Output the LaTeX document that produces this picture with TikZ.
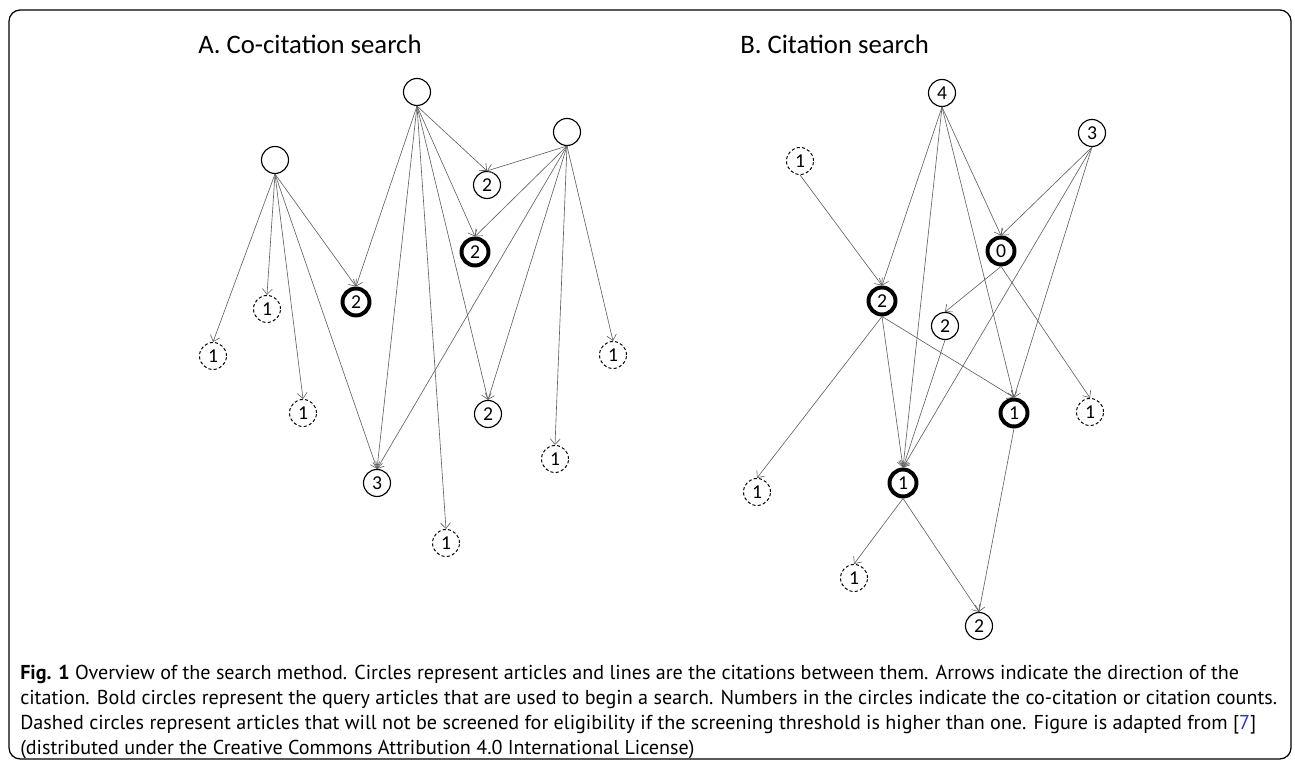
\documentclass[tikz,border=0pt]{standalone}
\usepackage{fontspec}
\setmainfont{Carlito}
\newfontfamily\capfont{PT Sans}
\usepackage[dvipsnames]{xcolor}
\usetikzlibrary{arrows.meta}
\definecolor{refblue}{RGB}{45,45,225}

\begin{document}
\begin{tikzpicture}[
  >={Straight Barb[length=4pt,width=7pt]},
  every node/.style={font=\fontsize{14}{15}\selectfont},
  art/.style={circle, draw, line width=0.8pt, minimum size=6.75mm, inner sep=0pt},
  query/.style={art, line width=2.8pt},
  low/.style={art, line width=0.7pt, dash pattern=on 2.2pt off 1.6pt},
  cit/.style={->, draw=black!62, line width=0.45pt},
  panel/.style={anchor=west, inner sep=0pt, font=\fontsize{19}{23}\selectfont}
]
\useasboundingbox (0,0) rectangle (32.375,19.15);

% ---------- Frame ----------
\draw[line width=0.9pt, rounded corners=8pt] (0.225,0.175) rectangle (32.275,18.9);

% ---------- Panel titles ----------
\node[panel] (titleA) at (4.95,18.05) {A. Co-citation search};
\node[panel] (titleB) at (18.5,18.05) {B. Citation search};

% ---------- A: co-citation search ----------
\node[art] (aL) at (6.875,15.15) {};
\node[art] (aM) at (10.425,16.85) {};
\node[art] (aR) at (14.175,15.85) {};
\node[art] (a2top) at (12.175,14.525) {2};
\node[query] (aq1) at (11.875,12.85) {2};
\node[query] (aq2) at (8.9,11.6) {2};
\node[low] (ad1) at (6.675,11.425) {1};
\node[low] (ad2) at (5.325,10.25) {1};
\node[low] (ad3) at (7.575,8.825) {1};
\node[art] (a3) at (9.425,7.075) {3};
\node[low] (ad4) at (11.15,5.575) {1};
\node[art] (a2low) at (12.2,8.8) {2};
\node[low] (ad5) at (13.875,7.675) {1};
\node[low] (ad6) at (15.325,10.275) {1};

\draw[cit] (aL.south) -- (ad2.north);
\draw[cit] (aL.south) -- (ad1.north);
\draw[cit] (aL.south) -- (ad3.north);
\draw[cit] (aL.south) -- (a3.north);
\draw[cit] (aL.south) -- (aq2.north);

\draw[cit] (aM.south) -- (aq2.north);
\draw[cit] (aM.south) -- (a3.north);
\draw[cit] (aM.south) -- (ad4.north);
\draw[cit] (aM.south) -- (a2low.north);
\draw[cit] (aM.south) -- (a2top.north);
\draw[cit] (aM.south) -- (aq1.north);

\draw[cit] (aR.south) -- (a2top.north);
\draw[cit] (aR.south) -- (aq1.north);
\draw[cit] (aR.south) -- (a3.north);
\draw[cit] (aR.south) -- (a2low.north);
\draw[cit] (aR.south) -- (ad5.north);
\draw[cit] (aR.south) -- (ad6.north);

% ---------- B: citation search ----------
\node[art] (b4) at (23.55,16.825) {4};
\node[art] (b3) at (27.3,15.825) {3};
\node[low] (bd1) at (20.0,15.125) {1};
\node[query] (bq0) at (25.025,12.875) {0};
\node[query] (bq2) at (22.05,11.625) {2};
\node[art] (b2mid) at (23.625,11.0) {2};
\node[query] (bq1r) at (25.35,8.825) {1};
\node[low] (bd2) at (27.25,8.85) {1};
\node[low] (bd3) at (18.925,6.85) {1};
\node[query] (bq1c) at (22.575,7.075) {1};
\node[low] (bd4) at (21.35,4.7) {1};
\node[art] (b2bot) at (24.475,3.5) {2};

\draw[cit] (b4.south) -- (bq2.north);
\draw[cit] (b4.south) -- (bq1c.north);
\draw[cit] (b4.south) -- (bq1r.north);
\draw[cit] (b4.south) -- (bq0.north);

\draw[cit] (b3.south) -- (bq0.north);
\draw[cit] (b3.south) -- (bq1c.north);
\draw[cit] (b3.south) -- (bq1r.north);

\draw[cit] (bd1.south) -- (bq2.north);

\draw[cit] (bq0.south) -- (b2mid.north);
\draw[cit] (bq0.south) -- (bd2.north);

\draw[cit] (bq2.south) -- (bd3.north);
\draw[cit] (bq2.south) -- (bq1c.north);
\draw[cit] (bq2.south) -- (bq1r.north);

\draw[cit] (b2mid.south) -- (bq1c.north);

\draw[cit] (bq1c.south) -- (bd4.north);
\draw[cit] (bq1c.south) -- (b2bot.north);
\draw[cit] (bq1r.south) -- (b2bot.north);

% ---------- Caption ----------
\node[anchor=north west, align=left, inner sep=0pt,
  font=\capfont\fontsize{14.3}{17.6}\selectfont] (caption) at (0.5,2.52) {%
\textbf{Fig. 1} Overview of the search method. Circles represent articles and lines are the citations between them. Arrows indicate the direction of the\\
citation. Bold circles represent the query articles that are used to begin a search. Numbers in the circles indicate the co-citation or citation counts.\\
Dashed circles represent articles that will not be screened for eligibility if the screening threshold is higher than one. Figure is adapted from [{\color{refblue}7}]\\
(distributed under the Creative Commons Attribution 4.0 International License)};

\end{tikzpicture}
\end{document}
